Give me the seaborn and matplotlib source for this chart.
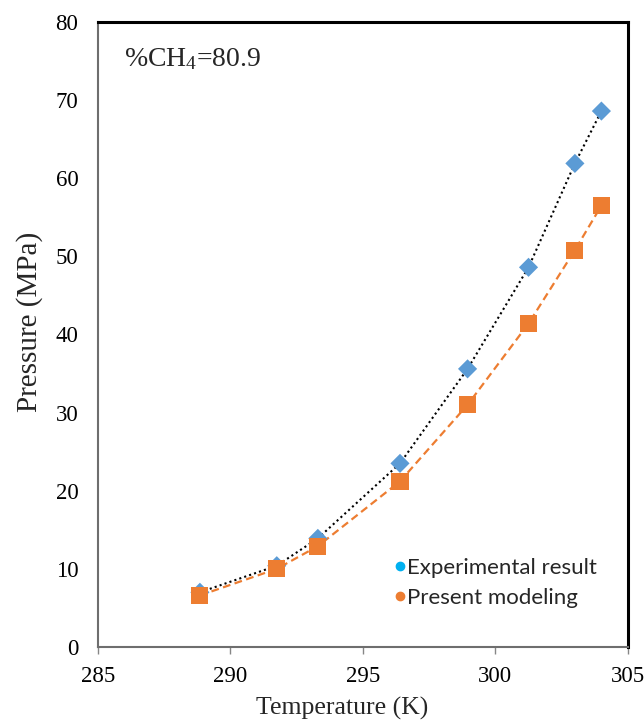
import matplotlib
matplotlib.use("Agg")
import matplotlib.pyplot as plt
import seaborn as sns
import pandas as pd
from matplotlib.lines import Line2D

temperature = [288.85, 291.75, 293.3, 296.4, 298.95, 301.25, 303.0, 304.0]
exp_pressure = [7.0, 10.4, 13.9, 23.5, 35.6, 48.6, 61.9, 68.6]
model_pressure = [6.6, 10.0, 12.9, 21.2, 31.0, 41.4, 50.8, 56.5]
legend_labels = ["Experimental result", "Present modeling"]

sns.set_style("white")
plt.rcParams["font.family"] = ["Liberation Serif", "DejaVu Sans"]
plt.rcParams["mathtext.fontset"] = "custom"
plt.rcParams["mathtext.rm"] = "Liberation Serif"
plt.rcParams["mathtext.it"] = "Liberation Serif:italic"
plt.rcParams["mathtext.bf"] = "Liberation Serif:bold"

df_exp = pd.DataFrame({"T": temperature, "P": exp_pressure})
df_mod = pd.DataFrame({"T": temperature, "P": model_pressure})

fig = plt.figure(figsize=(6.44, 7.24), dpi=100)
ax = fig.add_axes([0.152, 0.1064, 0.823, 0.8632])

sns.lineplot(data=df_exp, x="T", y="P", ax=ax, color="black", linestyle=(0, (1, 1.5)),
             linewidth=1.5, zorder=2)
sns.lineplot(data=df_mod, x="T", y="P", ax=ax, color="#ED7D31", linestyle=(0, (3.5, 2)),
             linewidth=1.6, zorder=2)
sns.scatterplot(data=df_exp, x="T", y="P", ax=ax, marker="D", s=95, color="#5B9BD5",
                edgecolor="none", zorder=3)
sns.scatterplot(data=df_mod, x="T", y="P", ax=ax, marker="s", s=150, color="#ED7D31",
                edgecolor="none", zorder=4)

ax.set_xlim(285, 305)
ax.set_ylim(0, 80)
ax.set_xticks(range(285, 306, 5))
ax.set_yticks(range(0, 81, 10))
ax.tick_params(axis="x", labelsize=16.5, direction="out", length=5, width=1,
               bottom=True, color="#868686", labelcolor="black", pad=9)
ax.tick_params(axis="y", labelsize=16.5, length=0, left=False, labelcolor="black", pad=14)
for side in ["top", "right"]:
    ax.spines[side].set_color("black")
    ax.spines[side].set_linewidth(2.2)
for side in ["left", "bottom"]:
    ax.spines[side].set_color("#6e6e6e")
    ax.spines[side].set_linewidth(1.5)
ax.set_xlabel("Temperature (K)", fontsize=18.5)
ax.set_ylabel("Pressure (MPa)", fontsize=21)
ax.xaxis.set_label_coords(0.46, -0.08)
ax.yaxis.set_label_coords(-0.104, 0.52)

ax.text(0.05, 0.962, r"%CH$_{4}$=80.9", transform=ax.transAxes, fontsize=20,
        va="top", ha="left")

handles = [Line2D([], [], marker="o", linestyle="none", color="#00B0F0", markersize=6),
           Line2D([], [], marker="o", linestyle="none", color="#ED7D31", markersize=6)]
leg = ax.legend(handles, legend_labels, loc="lower right", bbox_to_anchor=(0.98, 0.03),
                frameon=False, handletextpad=0.0, labelspacing=0.45,
                prop={"family": "Lato", "size": 16}, handlelength=0.7)

fig.savefig("out.png", dpi=100)
